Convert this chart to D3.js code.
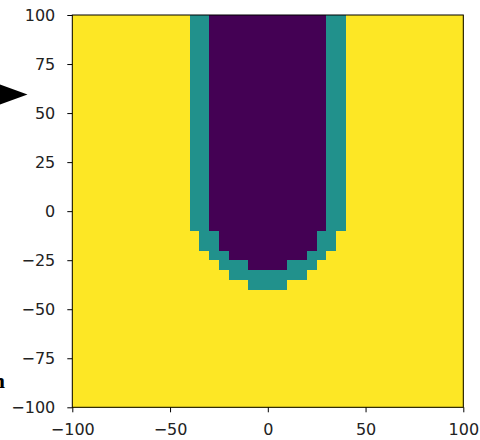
<!DOCTYPE html>
<html>
<head>
<meta charset="utf-8">
<script src="https://cdn.jsdelivr.net/npm/d3@7"></script>
<style>
  body { margin: 0; background: #fff; }
  svg { display: block; }
</style>
</head>
<body>
<div id="chart"></div>
<script>
// Grid cells are 5 units wide, rows listed bottom (y = -100) to top (y = 100)
const cellSize = 5;
const colStarts = [-100, -95, -90, -85, -80, -75, -70, -65, -60, -55, -50, -45, -40, -35, -30, -25, -20, -15, -10, -5,
                   0, 5, 10, 15, 20, 25, 30, 35, 40, 45, 50, 55, 60, 65, 70, 75, 80, 85, 90, 95];
const rowStarts = colStarts;

// half width of the outer (teal) band for each row
const outerHalf = [0, 0, 0, 0, 0, 0, 0, 0, 0, 0, 0, 0,
                   10, 20, 25, 30, 35, 35,
                   40, 40, 40, 40, 40, 40, 40, 40, 40, 40, 40, 40, 40, 40, 40, 40, 40, 40, 40, 40, 40, 40];
// half width of the inner (purple) core for each row
const innerHalf = [0, 0, 0, 0, 0, 0, 0, 0, 0, 0, 0, 0, 0, 0,
                   10, 20, 25, 25,
                   30, 30, 30, 30, 30, 30, 30, 30, 30, 30, 30, 30, 30, 30, 30, 30, 30, 30, 30, 30, 30, 30];

const levelColors = ["#440154", "#21918c", "#fde725"];
const xTicks = [-100, -50, 0, 50, 100];
const yTicks = [-100, -75, -50, -25, 0, 25, 50, 75, 100];

const W = 480, H = 440;
const plot = {left: 72.3, right: 463.3, top: 15, bottom: 407.3};

const svg = d3.select("#chart").append("svg")
    .attr("width", W)
    .attr("height", H);

const x = d3.scaleLinear().domain([-100, 100]).range([plot.left, plot.right]);
const y = d3.scaleLinear().domain([-100, 100]).range([plot.bottom, plot.top]);
const color = d3.scaleOrdinal().domain([0, 1, 2]).range(levelColors);

// build the cells from the row extents
const cells = [];
rowStarts.forEach((ry, i) => {
    colStarts.forEach(cx => {
        const c = Math.abs(cx + cellSize / 2);
        const level = c < innerHalf[i] ? 0 : (c < outerHalf[i] ? 1 : 2);
        cells.push({x: cx, y: ry, level});
    });
});

svg.append("g")
    .selectAll("rect")
    .data(cells)
    .join("rect")
    .attr("x", d => x(d.x))
    .attr("y", d => y(d.y + cellSize))
    .attr("width", d => x(d.x + cellSize) - x(d.x) + 0.3)
    .attr("height", d => y(d.y) - y(d.y + cellSize) + 0.3)
    .attr("fill", d => color(d.level))
    .attr("shape-rendering", "crispEdges");

// axes
const xAxis = svg.append("g")
    .attr("transform", `translate(0,${plot.bottom})`)
    .call(d3.axisBottom(x).tickValues(xTicks).tickSize(5).tickPadding(11).tickSizeOuter(0));

const yAxis = svg.append("g")
    .attr("transform", `translate(${plot.left},0)`)
    .call(d3.axisLeft(y).tickValues(yTicks).tickSize(5).tickPadding(12).tickSizeOuter(0));

[xAxis, yAxis].forEach(g => {
    g.select(".domain").remove();
    g.selectAll(".tick line").attr("stroke", "#000").attr("stroke-width", 1);
    g.selectAll(".tick text")
        .attr("fill", "#222")
        .style("font-family", "DejaVu Sans")
        .style("font-size", "16px");
});

// frame
svg.append("rect")
    .attr("x", plot.left)
    .attr("y", plot.top)
    .attr("width", plot.right - plot.left)
    .attr("height", plot.bottom - plot.top)
    .attr("fill", "none")
    .attr("stroke", "#000")
    .attr("stroke-width", 1);

// clipped annotation pieces on the left margin
svg.append("path")
    .attr("d", "M0,84.5L27.5,94.5L0,104.5Z")
    .attr("fill", "#000");

svg.append("text")
    .attr("x", 5)
    .attr("y", 388)
    .attr("text-anchor", "end")
    .style("font-family", "Liberation Serif")
    .style("font-size", "22px")
    .style("font-weight", "bold")
    .text("n");
</script>
</body>
</html>
